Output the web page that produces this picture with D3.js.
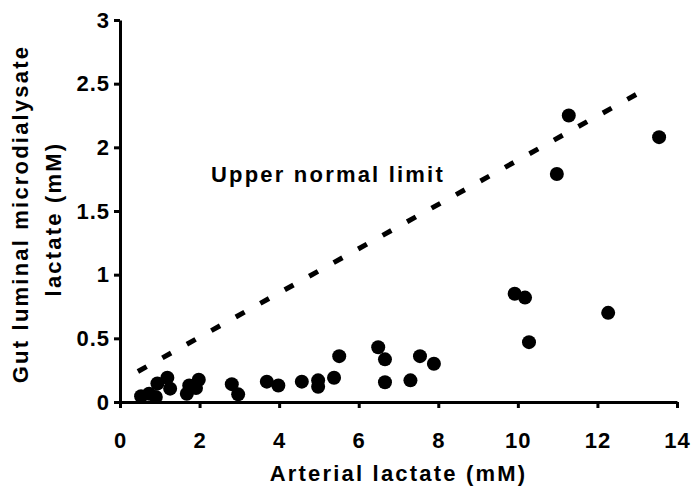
<!DOCTYPE html>
<html>
<head>
<meta charset="utf-8">
<script src="https://cdn.jsdelivr.net/npm/d3@7"></script>
<style>
  body { margin: 0; background: #fff; }
  text { font-family: "Liberation Sans", Arial, sans-serif; font-weight: bold; fill: #000; }
</style>
</head>
<body>
<svg id="chart"></svg>
<script>
// arterial lactate (x) and gut luminal microdialysate lactate (y), mM
var arterial = [0.53, 0.73, 0.90, 0.94, 1.19, 1.26, 1.68, 1.74, 1.91, 1.98, 2.81, 2.97,
                3.69, 3.98, 4.57, 4.98, 4.98, 5.38, 5.51, 6.49, 6.66, 6.66, 7.30, 7.54, 7.89,
                9.92, 10.18, 10.28, 10.98, 11.28, 12.27, 13.55];
var gutLactate = [0.045, 0.065, 0.04, 0.145, 0.19, 0.105, 0.065, 0.13, 0.11, 0.175, 0.14, 0.06,
                  0.16, 0.13, 0.16, 0.17, 0.12, 0.19, 0.36, 0.43, 0.335, 0.155, 0.17, 0.36, 0.30,
                  0.85, 0.82, 0.47, 1.79, 2.25, 0.70, 2.08];

// upper normal limit line
var limitX = [0.45, 13.0];
var limitY = [0.24, 2.42];

var xTicks = [0, 2, 4, 6, 8, 10, 12, 14];
var yTicks = [0, 0.5, 1, 1.5, 2, 2.5, 3];

var width = 692, height = 494;
var margin = {top: 20, right: 15, bottom: 92, left: 120};

var svg = d3.select("#chart").attr("width", width).attr("height", height);

var x = d3.scaleLinear().domain([0, 14]).range([margin.left, width - margin.right]);
var y = d3.scaleLinear().domain([0, 3]).range([height - margin.bottom, margin.top]);

/* ~~~ axes ~~~ */
var xAxis = svg.append("g")
    .attr("transform", "translate(0," + y(0) + ")")
    .call(d3.axisBottom(x).tickValues(xTicks).tickSize(6).tickSizeOuter(0).tickPadding(24));

var yAxis = svg.append("g")
    .attr("transform", "translate(" + x(0) + ",0)")
    .call(d3.axisLeft(y).tickValues(yTicks).tickSize(6).tickSizeOuter(0).tickPadding(4)
        .tickFormat(function(d){ return String(d); }));

[xAxis, yAxis].forEach(function(g){
    g.select(".domain").attr("stroke", "#000").attr("stroke-width", 3);
    g.selectAll(".tick line").attr("stroke", "#000").attr("stroke-width", 3);
    g.selectAll(".tick text")
        .attr("font-family", null).attr("font-size", null)
        .style("font-size", "22px").style("letter-spacing", "1px");
});

/* ~~~ upper normal limit ~~~ */
var limitLine = d3.line().x(function(d){ return x(d[0]); }).y(function(d){ return y(d[1]); });
svg.append("path")
    .datum(d3.zip(limitX, limitY))
    .attr("d", limitLine)
    .attr("fill", "none")
    .attr("stroke", "#000")
    .attr("stroke-width", 5)
    .attr("stroke-dasharray", "10,18");

svg.append("text")
    .attr("x", 211).attr("y", 182)
    .style("font-size", "22px").style("letter-spacing", "2.2px")
    .text("Upper normal limit");

/* ~~~ points ~~~ */
svg.append("g").selectAll("circle")
    .data(d3.zip(arterial, gutLactate))
    .enter()
    .append("circle")
    .attr("cx", function(d){ return x(d[0]); })
    .attr("cy", function(d){ return y(d[1]); })
    .attr("r", 7)
    .attr("fill", "#000");

/* ~~~ axis titles ~~~ */
svg.append("text")
    .attr("x", (x(0) + x(14)) / 2).attr("y", 481)
    .attr("text-anchor", "middle")
    .style("font-size", "22px").style("letter-spacing", "2.2px")
    .text("Arterial lactate (mM)");

var yTitle = ["Gut luminal microdialysate", "lactate (mM)"];
svg.append("g").selectAll("text")
    .data(yTitle)
    .enter()
    .append("text")
    .attr("transform", function(d, i){
        return "translate(" + (i === 0 ? 27.5 : 60.5) + "," + (i === 0 ? 214 : 219) + ") rotate(-90)";
    })
    .attr("text-anchor", "middle")
    .style("font-size", "22px").style("letter-spacing", "2.2px")
    .text(function(d){ return d; });
</script>
</body>
</html>
